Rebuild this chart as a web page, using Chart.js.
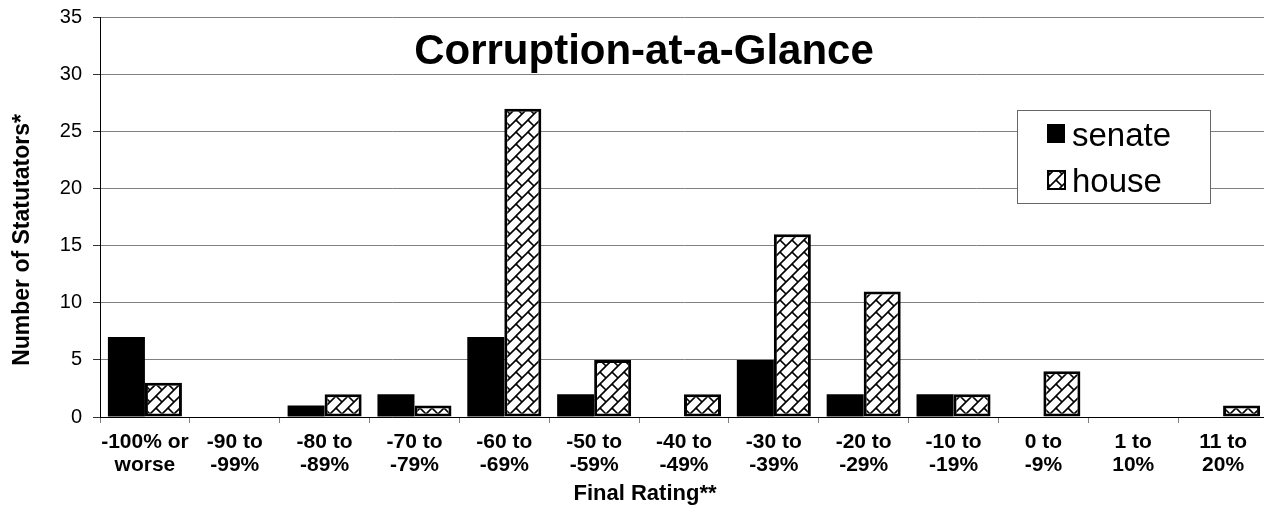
<!DOCTYPE html>
<html>
<head>
<meta charset="utf-8">
<script src="https://cdn.jsdelivr.net/npm/chart.js@4/dist/chart.umd.min.js"></script>
<style>
  html, body { margin: 0; padding: 0; background: #fff; overflow: hidden; }
  #wrap { width: 1270px; height: 508px; }
</style>
</head>
<body>
<div id="wrap"><canvas id="c" width="1270" height="508"></canvas></div>
<script>
// Rating bands (two-line category labels)
const ratingBands = [
  ['-100% or', 'worse'],
  ['-90 to', '-99%'],
  ['-80 to', '-89%'],
  ['-70 to', '-79%'],
  ['-60 to', '-69%'],
  ['-50 to', '-59%'],
  ['-40 to', '-49%'],
  ['-30 to', '-39%'],
  ['-20 to', '-29%'],
  ['-10 to', '-19%'],
  ['0 to', '-9%'],
  ['1 to', '10%'],
  ['11 to', '20%']
];

// Number of legislators in each band
const senateCounts = [7, 0, 1, 2, 7, 2, 0, 5, 2, 2, 0, 0, 0];
const houseCounts  = [3, 0, 2, 1, 27, 5, 2, 16, 11, 2, 4, 0, 1];

const yTicks = [0, 5, 10, 15, 20, 25, 30, 35];

const chartTitle = 'Corruption-at-a-Glance';
const yTitle = 'Number of Statutators*';
const xTitle = 'Final Rating**';
const seriesNames = ['senate', 'house'];

const FONT = '"Liberation Sans", Arial, Helvetica, sans-serif';

// Diagonal brick hatch used for the house bars
function makeBrickPattern(ctx) {
  const s = 12;
  const t = document.createElement('canvas');
  t.width = s; t.height = s;
  const g = t.getContext('2d');
  g.fillStyle = '#ffffff';
  g.fillRect(0, 0, s, s);
  g.strokeStyle = '#000000';
  g.lineWidth = 1.6;
  g.beginPath();
  g.moveTo(-2, s + 2); g.lineTo(s + 2, -2);        // long "/" stroke
  g.moveTo(-2, 2); g.lineTo(2, -2);                // neighbour stroke corner
  g.moveTo(s - 2, s + 2); g.lineTo(s + 2, s - 2);  // neighbour stroke corner
  g.moveTo(0, 0); g.lineTo(s / 2, s / 2);          // short "\" connector
  g.stroke();
  return ctx.createPattern(t, 'repeat');
}

const canvas = document.getElementById('c');
const ctx = canvas.getContext('2d');
const brick = makeBrickPattern(ctx);

// Titles and the boxed legend drawn on top of the plot
const overlay = {
  id: 'overlay',
  afterDraw(chart) {
    const c = chart.ctx;
    c.save();

    // Chart title inside the plot
    c.fillStyle = '#000';
    c.font = 'bold 42px ' + FONT;
    c.textAlign = 'center';
    c.textBaseline = 'alphabetic';
    c.fillText(chartTitle, 644, 64);

    // Y axis title
    c.save();
    c.translate(23, 240);
    c.rotate(-Math.PI / 2);
    c.font = 'bold 23px ' + FONT;
    c.textAlign = 'center';
    c.textBaseline = 'middle';
    c.fillText(yTitle, 0, 0);
    c.restore();

    // X axis title
    c.font = 'bold 22px ' + FONT;
    c.textAlign = 'center';
    c.textBaseline = 'middle';
    c.fillText(xTitle, 645, 494);

    // Legend box
    const bx = 1017.5, by = 110.5, bw = 193, bh = 93;
    c.fillStyle = '#fff';
    c.fillRect(bx, by, bw, bh);
    c.strokeStyle = '#666';
    c.lineWidth = 1;
    c.strokeRect(bx, by, bw, bh);

    c.font = '33px ' + FONT;
    c.textAlign = 'left';
    c.textBaseline = 'alphabetic';

    // senate swatch
    c.fillStyle = '#000';
    c.fillRect(1047, 124, 18, 19);
    c.fillText(seriesNames[0], 1072, 146);

    // house swatch
    c.fillStyle = brick;
    c.fillRect(1047, 170, 19, 20);
    c.strokeStyle = '#000';
    c.lineWidth = 2;
    c.strokeRect(1048, 171, 17, 18);
    c.fillStyle = '#000';
    c.fillText(seriesNames[1], 1072, 192);

    c.restore();
  }
};

new Chart(ctx, {
  type: 'bar',
  data: {
    labels: ratingBands,
    datasets: [
      {
        label: seriesNames[0],
        data: senateCounts,
        backgroundColor: '#000000',
        borderColor: '#000000',
        borderWidth: 0,
        categoryPercentage: 0.824,
        barPercentage: 1.0
      },
      {
        label: seriesNames[1],
        data: houseCounts,
        backgroundColor: brick,
        borderColor: '#000000',
        borderWidth: 3,
        borderSkipped: false,
        categoryPercentage: 0.824,
        barPercentage: 1.0
      }
    ]
  },
  options: {
    responsive: false,
    animation: false,
    devicePixelRatio: 1,
    layout: { padding: { top: 17.5, right: 2, bottom: 0, left: 0 } },
    plugins: {
      legend: { display: false },
      title: { display: false },
      tooltip: { enabled: false }
    },
    scales: {
      x: {
        offset: true,
        grid: {
          display: true,
          drawOnChartArea: false,
          drawTicks: true,
          tickLength: 6,
          color: '#808080',
          offset: true
        },
        border: { display: true, color: '#000', width: 1 },
        ticks: {
          color: '#000',
          font: { family: FONT, size: 21, weight: 'bold', lineHeight: 1.1 },
          padding: 8,
          maxRotation: 0,
          autoSkip: false
        },
        afterFit(scale) { scale.height = 91; }
      },
      y: {
        min: 0,
        max: 35,
        afterBuildTicks(scale) { scale.ticks = yTicks.map(v => ({ value: v })); },
        grid: {
          color: '#808080',
          lineWidth: 1,
          drawTicks: true,
          tickLength: 7,
          tickColor: '#333'
        },
        border: { display: true, color: '#000', width: 1 },
        ticks: {
          color: '#000',
          font: { family: FONT, size: 20, lineHeight: 0.5 },
          padding: 11
        },
        afterFit(scale) { scale.width = 100; }
      }
    }
  },
  plugins: [overlay]
});
</script>
</body>
</html>
